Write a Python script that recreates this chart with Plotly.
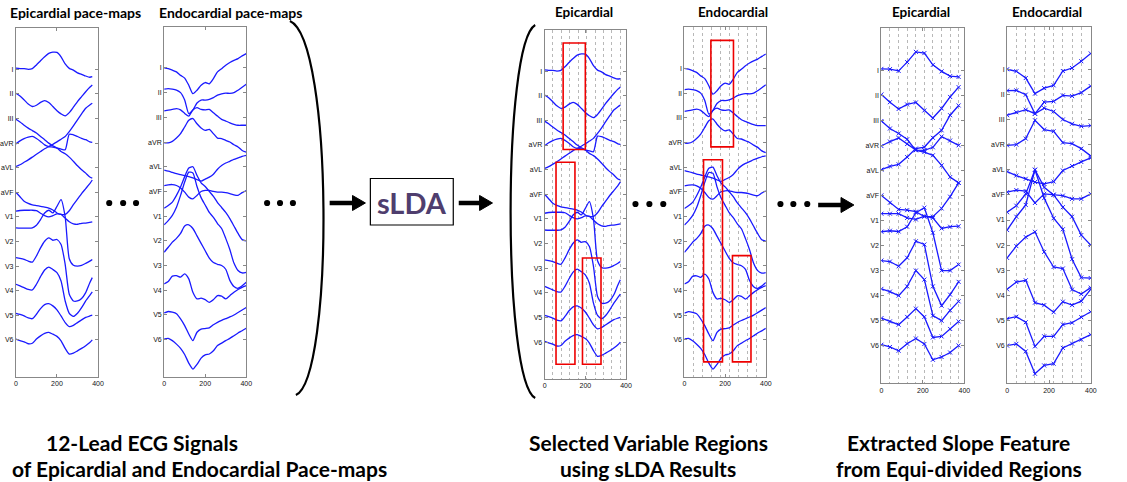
import plotly.graph_objects as go

W, H = 1127, 482

LEADS = ["I", "II", "III", "aVR", "aVL", "aVF", "V1", "V2", "V3", "V4", "V5", "V6"]
LEAD_POS = [12, 11, 10, 9, 8, 7, 6, 5, 4, 3, 2, 1]

# ---------------- raw ECG (sample index) ----------------
EPI_X = [0, 20, 40, 60, 80, 100, 120, 140, 160, 180, 200, 220, 240, 260, 280, 300, 320, 340, 360, 372]
EPI_I = [0.05, 0.03, 0.03, 0, 0.03, 0.18, 0.35, 0.51, 0.65, 0.70, 0.69, 0.51, 0.22, 0.04, -0.03, -0.14, -0.2, -0.27, -0.32, -0.3]
EPI_II = [0.03, -0.08, -0.24, -0.41, -0.51, -0.46, -0.34, -0.27, -0.35, -0.51, -0.68, -0.81, -0.89, -0.76, -0.54, -0.31, -0.11, 0.09, 0.27, 0.36]
EPI_III = [-0.03, -0.14, -0.27, -0.39, -0.49, -0.59, -0.73, -0.86, -1.0, -1.11, -1.2, -1.34, -1.43, -1.57, -1.74, -1.92, -2.08, -2.22, -2.38, -2.42]
EPI_AVR = [-0.03, 0.09, 0.18, 0.24, 0.27, 0.19, 0.07, -0.07, -0.14, -0.16, -0.2, -0.24, -0.27, 0.36, 0.34, 0.27, 0.19, 0.14, 0.05, 0.03]
EPI_AVL = [0.05, 0.12, 0.22, 0.32, 0.43, 0.55, 0.66, 0.77, 0.86, 0.95, 1.05, 1.16, 1.27, 1.47, 1.7, 1.95, 2.19, 2.42, 2.55, 2.62]
EPI_AVF = [0, -0.18, -0.36, -0.45, -0.51, -0.54, -0.57, -0.6, -0.64, -0.72, -0.84, -0.9, -0.9, -0.75, -0.5, -0.28, -0.05, 0.15, 0.35, 0.5]
EPI_V1 = [0.23, 0.26, 0.27, 0.27, 0.27, 0.25, 0.15, 0.05, 0.0, 0.05, 0.12, 0.1, -0.05, -0.2, -0.28, -0.3, -0.26, -0.25, -0.22, -0.2]
EPI_V2 = [0.55, 0.54, 0.54, 0.54, 0.55, 0.66, 0.89, 1.16, 1.27, 1.16, 1.43, 1.7, 1.0, -0.7, -0.97, -1.0, -0.97, -0.89, -0.8, -0.73]
EPI_V3 = [0.34, 0.31, 0.27, 0.2, 0.16, 0.41, 0.74, 1.01, 1.15, 1.05, 1.08, 0.88, 0.07, -1.15, -1.42, -1.42, -1.32, -1.08, -0.68, -0.47]
EPI_V4 = [0.26, 0.19, 0.12, 0.05, 0.03, 0.26, 0.57, 0.84, 0.96, 0.86, 0.73, 0.39, -0.42, -0.92, -1.05, -0.92, -0.69, -0.42, -0.19, -0.05]
EPI_V5 = [0.08, 0.03, -0.03, -0.11, -0.14, 0.04, 0.27, 0.43, 0.47, 0.38, 0.22, -0.03, -0.3, -0.46, -0.41, -0.3, -0.19, -0.09, -0.03, 0]
EPI_V6 = [0.03, -0.03, -0.08, -0.16, -0.14, 0.03, 0.16, 0.26, 0.3, 0.23, 0.14, -0.04, -0.35, -0.58, -0.54, -0.45, -0.35, -0.24, -0.11, 0]
EPI_RAW = [EPI_I, EPI_II, EPI_III, EPI_AVR, EPI_AVL, EPI_AVF, EPI_V1, EPI_V2, EPI_V3, EPI_V4, EPI_V5, EPI_V6]

ENDO_X = [0, 20, 40, 60, 80, 100, 120, 140, 160, 180, 200, 220, 240, 260, 280, 300, 320, 340, 360, 380, 400]
ENDO_I = [0, -0.03, -0.09, -0.16, -0.3, -0.41, -0.7, -1.04, -0.9, -0.7, -0.59, -0.64, -0.43, -0.16, -0.03, 0.11, 0.22, 0.31, 0.38, 0.49, 0.58]
ENDO_II = [0.14, 0.16, 0.14, 0.1, 0.0, -0.3, -0.85, -0.7, -0.42, -0.3, -0.3, -0.27, -0.2, -0.1, -0.05, -0.02, -0.03, 0.0, 0.1, 0.22, 0.34]
ENDO_III = [0.26, 0.29, 0.32, 0.35, 0.3, 0.16, 0.05, 0.3, 0.39, 0.32, 0.3, 0.32, 0.19, 0.05, -0.08, -0.15, -0.22, -0.28, -0.32, -0.32, -0.32]
ENDO_AVR = [-0.03, -0.03, 0.03, 0.16, 0.34, 0.61, 0.88, 0.95, 0.74, 0.57, 0.47, 0.51, 0.34, 0.16, 0.14, 0.07, 0, -0.11, -0.2, -0.34, -0.41]
ENDO_AVL = [-0.14, -0.18, -0.23, -0.28, -0.32, -0.36, -0.4, -0.45, -0.52, -0.58, -0.5, -0.42, -0.3, -0.1, 0.05, 0.15, 0.22, 0.3, 0.36, 0.42, 0.46]
ENDO_AVF = [0.24, 0.27, 0.28, 0.24, 0.14, -0.03, -0.23, -0.3, -0.16, 0, 0.04, 0.04, 0, -0.03, -0.03, -0.05, -0.09, -0.14, -0.16, -0.05, 0.04]
ENDO_V1 = [0.32, 0.43, 0.57, 0.84, 1.18, 1.6, 1.95, 2.0, 1.65, 1.35, 1.2, 1.0, 0.8, 0.55, 0.35, 0.15, -0.1, -0.4, -0.7, -0.95, -1.0]
ENDO_V2 = [0.65, 0.82, 1.03, 1.36, 1.84, 2.38, 2.78, 2.75, 2.2, 1.75, 1.45, 1.15, 0.95, 0.7, 0.5, 0.1, -0.35, -0.9, -1.2, -1.3, -1.28]
ENDO_V3 = [0.54, 0.74, 0.95, 1.1, 1.3, 1.6, 1.65, 1.5, 1.2, 0.9, 0.6, 0.3, 0.12, 0.05, 0.0, -0.15, -0.6, -0.85, -0.92, -0.82, -0.68]
ENDO_V4 = [0.26, 0.35, 0.57, 0.59, 0.53, 0.66, 0.46, -0.08, -0.35, -0.32, -0.38, -0.49, -0.38, -0.22, -0.24, -0.35, -0.22, -0.08, 0.03, 0.12, 0.19]
ENDO_V5 = [0.08, 0.14, 0.11, 0.05, -0.16, -0.43, -0.77, -1.04, -0.7, -0.57, -0.55, -0.52, -0.4, -0.3, -0.22, -0.15, -0.08, 0.0, 0.1, 0.2, 0.3]
ENDO_V6 = [0.03, 0.05, -0.04, -0.18, -0.35, -0.6, -0.95, -1.19, -1.0, -0.75, -0.62, -0.58, -0.45, -0.24, -0.14, -0.04, 0.05, 0.16, 0.27, 0.36, 0.46]
ENDO_RAW = [ENDO_I, ENDO_II, ENDO_III, ENDO_AVR, ENDO_AVL, ENDO_AVF, ENDO_V1, ENDO_V2, ENDO_V3, ENDO_V4, ENDO_V5, ENDO_V6]

# ---------------- slope features (equi-divided regions) ----------------
EPI_SX = [0, 41, 83, 124, 166, 207, 248, 290, 331, 372]
EPI_S_I = [0.05, 0.04, -0.03, 0.32, 0.73, 0.68, 0.21, -0.05, -0.24, -0.27]
EPI_S_II = [0.03, -0.28, -0.55, -0.37, -0.29, -0.61, -0.91, -0.53, -0.07, 0.32]
EPI_S_III = [-0.03, -0.33, -0.53, -0.76, -1.2, -1.27, -1.4, -1.8, -2.27, -2.5]
EPI_S_AVR = [-0.03, 0.15, 0.29, 0.05, -0.19, -0.2, -0.08, 0.35, 0.19, 0.0]
EPI_S_AVL = [0.03, 0.16, 0.24, 0.53, 0.87, 0.93, 1.3, 1.6, 2.2, 2.59]
EPI_S_AVF = [0, -0.29, -0.56, -0.59, -0.65, -0.85, -0.85, -0.52, -0.05, 0.5]
EPI_S_V1 = [0.27, 0.27, 0.27, 0.1, 0.04, 0.17, 0.1, -0.32, -0.25, -0.23]
EPI_S_V2 = [0.55, 0.59, 0.56, 0.75, 1.31, 1.51, 0.51, -1.0, -1.0, -0.76]
EPI_S_V3 = [0.4, 0.36, 0.17, 0.51, 1.17, 1.04, -0.63, -1.4, -0.96, -0.45]
EPI_S_V4 = [0.27, 0.16, 0.0, 0.37, 1.0, 0.64, -0.8, -1.0, -0.59, -0.23]
EPI_S_V5 = [0.1, -0.03, -0.16, 0.15, 0.48, 0.15, -0.67, -0.63, -0.33, -0.03]
EPI_S_V6 = [0.04, -0.05, -0.2, 0.08, 0.29, 0.07, -0.56, -0.45, -0.27, 0.01]
EPI_SLOPE = [EPI_S_I, EPI_S_II, EPI_S_III, EPI_S_AVR, EPI_S_AVL, EPI_S_AVF,
             EPI_S_V1, EPI_S_V2, EPI_S_V3, EPI_S_V4, EPI_S_V5, EPI_S_V6]

ENDO_SX = [0, 44, 89, 133, 177, 222, 266, 310, 354, 399]
ENDO_S_I = [0, -0.08, -0.35, -0.97, -0.75, -0.64, -0.07, 0.05, 0.32, 0.63]
ENDO_S_II = [0.15, 0.16, -0.01, -0.77, -0.31, -0.28, -0.04, -0.07, 0.07, 0.33]
ENDO_S_III = [0.17, 0.29, 0.39, 0.23, 0.45, 0.32, 0, -0.17, -0.27, -0.24]
ENDO_S_AVR = [-0.03, 0, 0.24, 0.97, 0.6, 0.53, 0.08, 0.04, -0.16, -0.45]
ENDO_S_AVL = [-0.07, -0.23, -0.36, -0.49, -0.56, -0.47, -0.03, 0.15, 0.31, 0.47]
ENDO_S_AVF = [0.11, 0.19, 0.15, -0.32, 0.04, 0.01, -0.03, -0.16, -0.16, 0.04]
ENDO_S_V1 = [0.31, 0.57, 1.04, 2.0, 1.3, 1.0, 0.51, 0.13, -0.6, -1.0]
ENDO_S_V2 = [0.6, 1.13, 1.6, 3.0, 1.87, 1.07, 0.63, -0.56, -1.29, -1.31]
ENDO_S_V3 = [0.49, 0.96, 1.32, 1.53, 0.73, 0.13, 0.07, -0.77, -0.95, -0.69]
ENDO_S_V4 = [0.24, 0.53, 0.6, -0.29, -0.39, -0.67, -0.25, -0.39, -0.23, 0.24]
ENDO_S_V5 = [0.07, 0.15, -0.07, -1.03, -0.63, -0.63, -0.16, -0.09, 0.13, 0.35]
ENDO_S_V6 = [0, 0.07, -0.23, -1.12, -0.79, -0.72, -0.09, 0.08, 0.24, 0.44]
ENDO_SLOPE = [ENDO_S_I, ENDO_S_II, ENDO_S_III, ENDO_S_AVR, ENDO_S_AVL, ENDO_S_AVF,
              ENDO_S_V1, ENDO_S_V2, ENDO_S_V3, ENDO_S_V4, ENDO_S_V5, ENDO_S_V6]

# sLDA-selected regions: (sample start, sample end, lead-axis low, lead-axis high)
EPI_REGIONS = [(91, 200, 8.82, 13.14), (56, 149, 0.1, 8.3), (186, 277, 0.1, 4.41)]
ENDO_REGIONS = [(130, 241, 8.82, 13.14), (94, 187, 0.1, 8.3), (236, 327, 0.1, 4.41)]

# ---------------- layout geometry (pixels) ----------------
PANELS = [
    (14.0, 96.7, 28.3, 376.7),
    (163.3, 246.0, 26.7, 376.7),
    (546.5, 628.5, 30.0, 379.0),
    (687.3, 769.3, 27.3, 376.7),
    (885.7, 969.3, 28.3, 383.3),
    (1012.3, 1096.7, 27.3, 383.3),
]
BLUE = "#1a1aff"
TICKFONT = dict(family="Liberation Sans, Arial", size=7, color="#111")
TITLEFONT = "Lato, Open Sans, sans-serif"

fig = go.Figure()
layout = dict(width=W, height=H, margin=dict(l=0, r=0, t=0, b=0),
              paper_bgcolor="white", plot_bgcolor="white", showlegend=False)

def px(x):
    return x / W

def py(y):
    return 1 - y / H

for i, (x0, x1, top, bot) in enumerate(PANELS):
    n = i + 1
    xa = "xaxis" if n == 1 else f"xaxis{n}"
    ya = "yaxis" if n == 1 else f"yaxis{n}"
    grid = None
    if i in (2, 4):
        grid = EPI_SX[1:]
    elif i in (3, 5):
        grid = ENDO_SX[1:]
    xdict = dict(domain=[px(x0), px(x1)], range=[0, 400], anchor=f"y{n}" if n > 1 else "y",
                 tickmode="array", tickvals=[0, 200, 400], ticks="inside", ticklen=3,
                 tickcolor="#888", showline=True, linecolor="#888", linewidth=1,
                 mirror="allticks", showgrid=False, zeroline=False, tickfont=TICKFONT,
                 fixedrange=True)
    if grid:
        xdict["minor"] = dict(tickmode="array", tickvals=grid, showgrid=True,
                              gridcolor="#b8b8b8", griddash="dot", gridwidth=0.8, ticks="")
    ydict = dict(domain=[py(bot), py(top)], range=[-0.5, 13.67], anchor=f"x{n}" if n > 1 else "x",
                 tickmode="array", tickvals=LEAD_POS, ticktext=LEADS, ticks="inside",
                 ticklen=3, tickcolor="#888", showline=True, linecolor="#888", linewidth=1,
                 mirror="allticks", showgrid=False, zeroline=False, tickfont=TICKFONT,
                 fixedrange=True)
    layout[xa] = xdict
    layout[ya] = ydict

    xr = "x" if n == 1 else f"x{n}"
    yr = "y" if n == 1 else f"y{n}"
    if i in (0, 2):
        xs, sets, mode = EPI_X, EPI_RAW, "lines"
    elif i in (1, 3):
        xs, sets, mode = ENDO_X, ENDO_RAW, "lines"
    elif i == 4:
        xs, sets, mode = EPI_SX, EPI_SLOPE, "lines+markers"
    else:
        xs, sets, mode = ENDO_SX, ENDO_SLOPE, "lines+markers"
    for k, vals in enumerate(sets):
        fig.add_trace(go.Scatter(
            x=xs, y=[LEAD_POS[k] + v for v in vals], mode=mode,
            line=dict(color=BLUE, width=1.3, shape="spline" if mode == "lines" else "linear",
                      smoothing=0.6),
            marker=dict(symbol="x-thin", size=4, line=dict(color=BLUE, width=1.0)),
            xaxis=xr, yaxis=yr, hoverinfo="skip"))

shapes = []
# red sLDA regions
for n, regions in ((3, EPI_REGIONS), (4, ENDO_REGIONS)):
    for (a, b, lo, hi) in regions:
        shapes.append(dict(type="rect", xref=f"x{n}", yref=f"y{n}", x0=a, x1=b, y0=lo, y1=hi,
                           line=dict(color="#ee0000", width=1.6), fillcolor="rgba(0,0,0,0)"))

# parentheses
shapes.append(dict(type="path", xref="paper", yref="paper",
                   path=f"M {px(290):.5f},{py(21):.5f} C {px(334):.5f},{py(40):.5f} {px(334):.5f},{py(378):.5f} {px(296):.5f},{py(395):.5f}",
                   line=dict(color="black", width=2.2)))
shapes.append(dict(type="path", xref="paper", yref="paper",
                   path=f"M {px(537):.5f},{py(25):.5f} C {px(504):.5f},{py(44):.5f} {px(504):.5f},{py(380):.5f} {px(537):.5f},{py(398):.5f}",
                   line=dict(color="black", width=2.2)))

# arrows
for (xa0, xtip, yy) in ((330, 366, 203), (460, 494, 203), (822, 858, 205)):
    shapes.append(dict(type="line", xref="paper", yref="paper", x0=px(xa0), x1=px(xtip - 10),
                       y0=py(yy), y1=py(yy), line=dict(color="black", width=4.5)))
    shapes.append(dict(type="path", xref="paper", yref="paper",
                       path=f"M {px(xtip-13):.5f},{py(yy-7.5):.5f} L {px(xtip):.5f},{py(yy):.5f} L {px(xtip-13):.5f},{py(yy+7.5):.5f} Z",
                       fillcolor="black", line=dict(color="black", width=1)))

# dots
for cx, cy in ((108, 203), (122, 203), (135, 203), (267, 203), (280, 203), (293, 203),
               (638, 204), (652, 204), (666, 204), (784, 204), (797, 204), (811, 204)):
    shapes.append(dict(type="circle", xref="paper", yref="paper",
                       x0=px(cx - 3.1), x1=px(cx + 3.1), y0=py(cy + 3.1), y1=py(cy - 3.1),
                       fillcolor="black", line=dict(color="black", width=0)))

# sLDA box
shapes.append(dict(type="rect", xref="paper", yref="paper", x0=px(371), x1=px(454.5),
                   y0=py(225), y1=py(178.5), line=dict(color="black", width=1.2),
                   fillcolor="white"))
layout["shapes"] = shapes

annotations = []
def txt(x, y, s, size, color="black", bold=True):
    annotations.append(dict(xref="paper", yref="paper", x=px(x), y=py(y), text=f"<b>{s}</b>" if bold else s,
                            showarrow=False, xanchor="center", yanchor="middle",
                            font=dict(family=TITLEFONT, size=size, color=color)))

txt(74, 12, "Epicardial pace-maps", 14)
txt(230, 12, "Endocardial pace-maps", 14)
txt(586, 12, "Epicardial", 13.5)
txt(736, 12, "Endocardial", 13.5)
txt(926, 12, "Epicardial", 13.5)
txt(1052, 12, "Endocardial", 13.5)
txt(413, 202, "sLDA", 29, color="#4f3e6e")
txt(141, 442, "12-Lead ECG Signals", 21)
txt(199, 468, "of Epicardial and Endocardial Pace-maps", 21)
txt(651, 442, "Selected Variable Regions", 21)
txt(651, 468, "using sLDA Results", 21)
txt(963, 442, "Extracted Slope Feature", 21)
txt(964, 468, "from Equi-divided Regions", 21)
layout["annotations"] = annotations

fig.update_layout(**layout)
fig.write_html("out.html")
